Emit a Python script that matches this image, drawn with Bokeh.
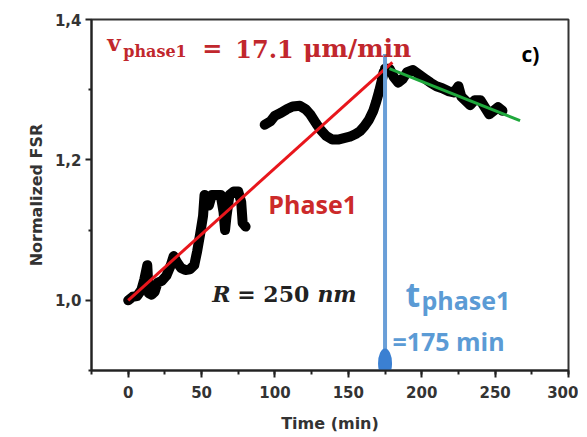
from bokeh.plotting import figure
from bokeh.models import (Label, SingleIntervalTicker, FixedTicker,
                          CustomJSTickFormatter)
from bokeh.embed import file_html
from bokeh.resources import INLINE

# ---------------- data ----------------
# measured normalized FSR vs time (three recorded segments)
seg1_t = [0, 3, 6, 9, 11, 13, 14, 16, 18, 20, 23, 26, 29, 31, 33, 36, 39, 42, 45,
          47, 49, 51, 52, 53, 55, 57, 60, 63, 65, 66, 67, 69, 72, 75, 77, 78, 80]
seg1_y = [1.000, 1.005, 1.006, 1.015, 1.030, 1.050, 1.010, 1.008, 1.012, 1.025,
          1.028, 1.035, 1.050, 1.063, 1.055, 1.046, 1.043, 1.044, 1.050,
          1.070, 1.094, 1.120, 1.150, 1.140, 1.135, 1.150, 1.150, 1.150, 1.125,
          1.100, 1.120, 1.150, 1.155, 1.155, 1.140, 1.110, 1.105]

seg2_t = [93, 97, 100, 104, 108, 112, 117, 121, 124, 128, 131, 135, 139, 143, 147,
          151, 155, 158, 161, 164, 167, 169, 171, 173, 174]
seg2_y = [1.250, 1.255, 1.263, 1.267, 1.272, 1.276, 1.277, 1.272, 1.265, 1.252,
          1.243, 1.234, 1.229, 1.229, 1.231, 1.233, 1.237, 1.241, 1.248, 1.257,
          1.270, 1.283, 1.298, 1.315, 1.325]

seg3_t = [175, 178, 181, 184, 187, 190, 194, 198, 202, 206, 210, 214, 218, 222,
          225, 227, 230, 233, 236, 240, 243, 246, 249, 252, 255]
seg3_y = [1.330, 1.330, 1.318, 1.310, 1.315, 1.325, 1.328, 1.322, 1.316, 1.310,
          1.305, 1.302, 1.298, 1.296, 1.305, 1.290, 1.284, 1.278, 1.285, 1.285,
          1.275, 1.265, 1.270, 1.275, 1.270]

# linear fits
phase1_fit_t = [0, 180]
phase1_fit_y = [1.000, 1.339]
phase2_fit_t = [178, 267]
phase2_fit_y = [1.330, 1.256]

t_phase1 = 175
x_ticks_interval = 50
y_major_ticks = [1.0, 1.2, 1.4]
y_minor_ticks = [0.9, 1.1, 1.3]

# ---------------- figure ----------------
p = figure(width=578, height=435, x_range=(-25, 300), y_range=(0.9, 1.4),
           output_backend="svg", toolbar_location=None,
           min_border_left=91, min_border_right=10, min_border_top=19,
           min_border_bottom=65)
p.xgrid.visible = False
p.ygrid.visible = False
p.outline_line_color = "#333333"
p.outline_line_width = 2
p.outline_line_alpha = 1.0
p.background_fill_color = "white"
p.border_fill_color = "white"

p.xaxis.ticker = SingleIntervalTicker(interval=x_ticks_interval, num_minor_ticks=2)
p.yaxis.ticker = FixedTicker(ticks=y_major_ticks, minor_ticks=y_minor_ticks)
p.yaxis.formatter = CustomJSTickFormatter(code="return tick.toFixed(1).replace('.', ',');")

for ax in (p.xaxis, p.yaxis):
    ax.axis_line_width = 2
    ax.axis_line_color = "#222222"
    ax.major_tick_line_width = 2
    ax.minor_tick_line_width = 2
    ax.major_tick_line_color = "#222222"
    ax.minor_tick_line_color = "#222222"
    ax.major_tick_in = 0
    ax.minor_tick_in = 0
    ax.major_label_text_font = "DejaVu Sans"
    ax.major_label_text_font_style = "bold"
    ax.major_label_text_font_size = "15px"
    ax.major_label_text_color = "#333333"
    ax.axis_label_text_font = "DejaVu Sans"
    ax.axis_label_text_font_style = "bold"
    ax.axis_label_text_font_size = "16px"
    ax.axis_label_text_color = "#333333"

p.xaxis.major_tick_out = 7
p.xaxis.minor_tick_out = 4
p.yaxis.major_tick_out = 6
p.yaxis.minor_tick_out = 3
p.xaxis.major_label_standoff = 8
p.yaxis.major_label_standoff = 4
p.xaxis.axis_label_standoff = 13
p.yaxis.axis_label_standoff = 6
p.xaxis.axis_label = "Time (min)"
p.yaxis.axis_label = "Normalized FSR"

# ---------------- data marks ----------------
for tt, yy in ((seg1_t, seg1_y), (seg2_t, seg2_y), (seg3_t, seg3_y)):
    p.line(tt, yy, line_color="black", line_width=10,
           line_join="round", line_cap="round")

p.line(phase1_fit_t, phase1_fit_y, line_color="#e8161c", line_width=3)
p.line(phase2_fit_t, phase2_fit_y, line_color="#1fa83c", line_width=3)

p.segment(x0=[t_phase1], y0=[0.9], x1=[t_phase1], y1=[1.351],
          line_color="#6a9fd8", line_width=4)
p.ellipse(x=[t_phase1], y=[0.91], width=14, height=30,
          width_units="screen", height_units="screen",
          fill_color="#3b80d2", line_color=None)

# ---------------- annotations ----------------
def lab(x, y, text, font, size, color, style="bold"):
    p.add_layout(Label(x=x, y=y, text=text, text_font=font,
                       text_font_size=size, text_font_style=style,
                       text_color=color, text_baseline="alphabetic",
                       text_align="left"))

red_dark = "#c1272d"
lab(-14.3, 1.367, "v", "DejaVu Serif", "23px", red_dark)
lab(-3.4, 1.354, "phase1", "DejaVu Serif", "16px", red_dark)
lab(50.5, 1.3586, "=", "DejaVu Serif", "24px", red_dark)
lab(73.0, 1.3586, "17.1", "DejaVu Serif", "24px", red_dark)
lab(119.3, 1.3586, "\u03bcm/min", "DejaVu Serif", "25px", red_dark)

lab(268, 1.351, "c)", "Open Sans", "21px", "black")
lab(95.5, 1.137, "Phase1", "Open Sans", "25px", "#cc2a2a")

lab(57.3, 1.0086, "R", "DejaVu Serif", "22px", "#222222", "bold italic")
lab(74.3, 1.0086, "= 250", "DejaVu Serif", "22px", "#222222")
lab(128.9, 1.0086, "nm", "DejaVu Serif", "22px", "#222222", "bold italic")

blue = "#5b9bd5"
lab(188.9, 1.0086, "t", "Open Sans", "34px", blue)
lab(199.8, 1.0, "phase1", "Open Sans", "25px", blue)
lab(180.0, 0.9414, "=175 min", "Open Sans", "25px", blue)

open("out.html", "w").write(file_html(p, INLINE))
